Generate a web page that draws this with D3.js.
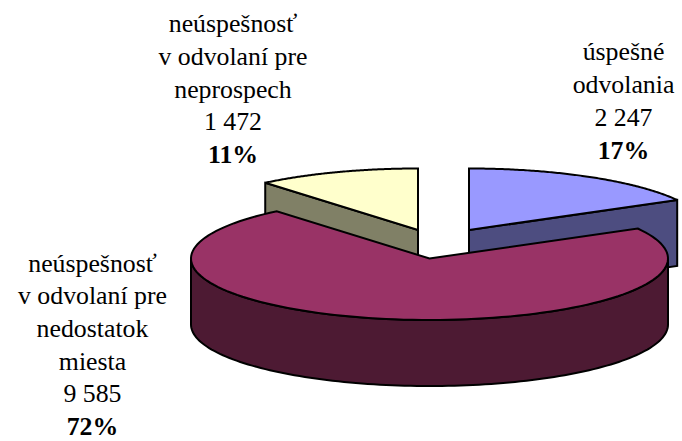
<!DOCTYPE html>
<html><head><meta charset="utf-8">
<script src="https://cdn.jsdelivr.net/npm/d3@7"></script>
<style>html,body{margin:0;padding:0;background:#fff}svg{display:block}</style>
</head><body><svg id="c" width="682" height="441"></svg>
<script>
const categories = ["úspešné odvolania", "neúspešnosť v odvolaní pre nedostatok miesta", "neúspešnosť v odvolaní pre neprospech"];
const values = [2247, 9585, 1472];
const valueLabels = ["2 247", "9 585", "1 472"];
const percentLabels = ["17%", "72%", "11%"];
const topColors = ["#9999FF", "#993366", "#FFFFCC"];
const sideColors = ["#4D4D80", "#4D1A33", "#808066"];
const labelLines = [["úspešné", "odvolania"], ["neúspešnosť", "v odvolaní pre", "nedostatok", "miesta"], ["neúspešnosť", "v odvolaní pre", "neprospech"]];
const labelCx = [623.5, 92.5, 233];
const labelBaseY = [60, 271.5, 32];
const lineSteps = [33, 32.7, 32.8];
const centers = [[469, 230], [429.5, 258.5], [418, 230]];

const RX = 238.5, RY = 61.5, DEPTH = 66;
const svg = d3.select("#c");
const pie = d3.pie().sort(null).value(d => d).startAngle(0).endAngle(2 * Math.PI);
const arcs = pie(values);
const px = (c, a) => c[0] + RX * Math.sin(a);
const py = (c, a) => c[1] - RY * Math.cos(a);

function rimPath(c, a0, a1, dy) {
  const p = d3.path();
  const n = 120;
  for (let i = 0; i <= n; i++) {
    const a = a0 + (a1 - a0) * i / n;
    const x = px(c, a), y = py(c, a) + dy;
    if (i === 0) p.moveTo(x, y); else p.lineTo(x, y);
  }
  return p;
}
function topPath(c, a0, a1) {
  const p = rimPath(c, a0, a1, 0);
  p.lineTo(c[0], c[1]);
  p.closePath();
  return p.toString();
}
function wallFlat(c, a) {
  return `M${c[0]},${c[1]}L${px(c, a)},${py(c, a)}L${px(c, a)},${py(c, a) + DEPTH}L${c[0]},${c[1] + DEPTH}Z`;
}
function wallFront(c, a0, a1) {
  const n = 120;
  let pts = [];
  for (let i = 0; i <= n; i++) { const a = a0 + (a1 - a0) * i / n; pts.push([px(c, a), py(c, a)]); }
  const lower = pts.slice().reverse().map(q => [q[0], q[1] + DEPTH]);
  return d3.line()(pts.concat(lower)) + "Z";
}
function add(d, fill) {
  svg.append("path").attr("d", d).attr("fill", fill)
    .attr("stroke", "#000").attr("stroke-width", 2)
    .attr("stroke-linejoin", "miter").attr("stroke-miterlimit", 3);
}
// blue slice
add(wallFlat(centers[0], arcs[0].endAngle), sideColors[0]);
add(topPath(centers[0], arcs[0].startAngle, arcs[0].endAngle), topColors[0]);
// yellow slice
add(wallFlat(centers[2], arcs[2].startAngle), sideColors[2]);
add(topPath(centers[2], arcs[2].startAngle, arcs[2].endAngle), topColors[2]);
// magenta slice
add(wallFront(centers[1], Math.PI / 2, 3 * Math.PI / 2), sideColors[1]);
add(topPath(centers[1], arcs[1].startAngle, arcs[1].endAngle), topColors[1]);

// labels
categories.forEach((cat, i) => {
  const lines = labelLines[i].concat([valueLabels[i], percentLabels[i]]);
  const t = svg.append("text").attr("text-anchor", "middle")
    .attr("font-family", "'Liberation Serif','Times New Roman',serif")
    .attr("font-size", 25.8).attr("fill", "#000");
  lines.forEach((l, j) => {
    t.append("tspan").attr("x", labelCx[i]).attr("y", labelBaseY[i] + j * lineSteps[i])
      .attr("font-weight", j === lines.length - 1 ? "bold" : "normal").text(l);
  });
});
</script></body></html>
